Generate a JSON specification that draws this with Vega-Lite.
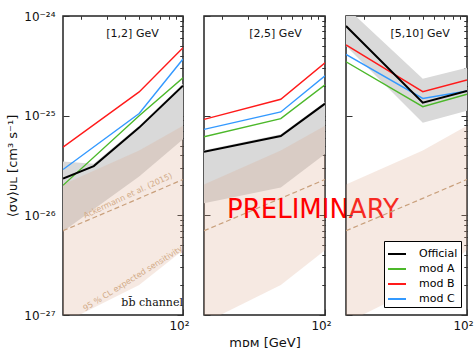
{
  "$schema": "https://vega.github.io/schema/vega-lite/v6.json",
  "padding": {"left": 6, "top": 9, "right": 0, "bottom": 0},
  "bounds": "flush",
  "spacing": 21,
  "datasets": {
    "lines": [
      {"panel": 1, "series": "Official", "mass": 15, "sigma": 2.34e-26},
      {"panel": 1, "series": "Official", "mass": 24.4, "sigma": 3.12e-26},
      {"panel": 1, "series": "Official", "mass": 50, "sigma": 7.59e-26},
      {"panel": 1, "series": "Official", "mass": 100, "sigma": 2.0e-25},
      {"panel": 1, "series": "mod A", "mass": 15, "sigma": 2.0e-26},
      {"panel": 1, "series": "mod A", "mass": 50, "sigma": 1.0e-25},
      {"panel": 1, "series": "mod A", "mass": 100, "sigma": 2.4e-25},
      {"panel": 1, "series": "mod B", "mass": 15, "sigma": 4.84e-26},
      {"panel": 1, "series": "mod B", "mass": 50, "sigma": 1.73e-25},
      {"panel": 1, "series": "mod B", "mass": 100, "sigma": 4.79e-25},
      {"panel": 1, "series": "mod C", "mass": 15, "sigma": 2.88e-26},
      {"panel": 1, "series": "mod C", "mass": 50, "sigma": 1.05e-25},
      {"panel": 1, "series": "mod C", "mass": 100, "sigma": 3.7e-25},
      {"panel": 2, "series": "Official", "mass": 15, "sigma": 4.35e-26},
      {"panel": 2, "series": "Official", "mass": 50, "sigma": 6.24e-26},
      {"panel": 2, "series": "Official", "mass": 100, "sigma": 1.32e-25},
      {"panel": 2, "series": "mod A", "mass": 15, "sigma": 6.14e-26},
      {"panel": 2, "series": "mod A", "mass": 50, "sigma": 9.33e-26},
      {"panel": 2, "series": "mod A", "mass": 100, "sigma": 2.04e-25},
      {"panel": 2, "series": "mod B", "mass": 15, "sigma": 9.18e-26},
      {"panel": 2, "series": "mod B", "mass": 50, "sigma": 1.46e-25},
      {"panel": 2, "series": "mod B", "mass": 100, "sigma": 3.39e-25},
      {"panel": 2, "series": "mod C", "mass": 15, "sigma": 7.28e-26},
      {"panel": 2, "series": "mod C", "mass": 50, "sigma": 1.09e-25},
      {"panel": 2, "series": "mod C", "mass": 100, "sigma": 2.51e-25},
      {"panel": 3, "series": "Official", "mass": 15, "sigma": 7.94e-25},
      {"panel": 3, "series": "Official", "mass": 50, "sigma": 1.35e-25},
      {"panel": 3, "series": "Official", "mass": 100, "sigma": 1.77e-25},
      {"panel": 3, "series": "mod A", "mass": 15, "sigma": 3.47e-25},
      {"panel": 3, "series": "mod A", "mass": 50, "sigma": 1.23e-25},
      {"panel": 3, "series": "mod A", "mass": 100, "sigma": 1.64e-25},
      {"panel": 3, "series": "mod B", "mass": 15, "sigma": 5.13e-25},
      {"panel": 3, "series": "mod B", "mass": 50, "sigma": 1.74e-25},
      {"panel": 3, "series": "mod B", "mass": 100, "sigma": 2.28e-25},
      {"panel": 3, "series": "mod C", "mass": 15, "sigma": 4.12e-25},
      {"panel": 3, "series": "mod C", "mass": 50, "sigma": 1.49e-25},
      {"panel": 3, "series": "mod C", "mass": 100, "sigma": 1.77e-25}
    ],
    "bands": [
      {"panel": 1, "band": "gray", "mass": 15, "lo": 6.9e-27, "hi": 3.47e-26},
      {"panel": 1, "band": "gray", "mass": 24.4, "lo": 1.15e-26, "hi": 3.3e-26},
      {"panel": 1, "band": "gray", "mass": 50, "lo": 2.45e-26, "hi": 7.9e-26},
      {"panel": 1, "band": "gray", "mass": 100, "lo": 5.8e-26, "hi": 2.09e-25},
      {"panel": 2, "band": "gray", "mass": 15, "lo": 1.32e-26, "hi": 4.5e-26},
      {"panel": 2, "band": "gray", "mass": 50, "lo": 1.9e-26, "hi": 6.5e-26},
      {"panel": 2, "band": "gray", "mass": 100, "lo": 4.12e-26, "hi": 1.37e-25},
      {"panel": 3, "band": "gray", "mass": 15, "lo": 5.0e-25, "hi": 1.23e-24},
      {"panel": 3, "band": "gray", "mass": 50, "lo": 8.5e-26, "hi": 2.34e-25},
      {"panel": 3, "band": "gray", "mass": 100, "lo": 1.12e-25, "hi": 3.02e-25},
      {"panel": 1, "band": "tan", "mass": 15, "lo": 8.3e-28, "hi": 2.04e-26},
      {"panel": 1, "band": "tan", "mass": 50, "lo": 2.0e-27, "hi": 4.47e-26},
      {"panel": 1, "band": "tan", "mass": 100, "lo": 4.47e-27, "hi": 7.94e-26},
      {"panel": 2, "band": "tan", "mass": 15, "lo": 8.3e-28, "hi": 2.04e-26},
      {"panel": 2, "band": "tan", "mass": 50, "lo": 2.0e-27, "hi": 4.47e-26},
      {"panel": 2, "band": "tan", "mass": 100, "lo": 4.47e-27, "hi": 7.94e-26},
      {"panel": 3, "band": "tan", "mass": 15, "lo": 8.3e-28, "hi": 2.04e-26},
      {"panel": 3, "band": "tan", "mass": 50, "lo": 2.0e-27, "hi": 4.47e-26},
      {"panel": 3, "band": "tan", "mass": 100, "lo": 4.47e-27, "hi": 7.94e-26}
    ],
    "ack": [
      {"panel": 1, "mass": 15, "sigma": 7.0e-27},
      {"panel": 1, "mass": 50, "sigma": 1.48e-26},
      {"panel": 1, "mass": 100, "sigma": 2.29e-26},
      {"panel": 2, "mass": 15, "sigma": 7.0e-27},
      {"panel": 2, "mass": 50, "sigma": 1.48e-26},
      {"panel": 2, "mass": 100, "sigma": 2.29e-26},
      {"panel": 3, "mass": 15, "sigma": 7.0e-27},
      {"panel": 3, "mass": 50, "sigma": 1.48e-26},
      {"panel": 3, "mass": 100, "sigma": 2.29e-26}
    ],
    "labels": [
      {"panel": 1, "kind": "title", "mass": 45, "sigma": 6.6e-25, "text": "[1,2] GeV"},
      {"panel": 2, "kind": "title", "mass": 46, "sigma": 6.6e-25, "text": "[2,5] GeV"},
      {"panel": 3, "kind": "title", "mass": 48, "sigma": 6.6e-25, "text": "[5,10] GeV"},
      {"panel": 1, "kind": "ack", "mass": 42, "sigma": 1.56e-26, "text": "Ackermann et al. (2015)"},
      {"panel": 1, "kind": "sens", "mass": 45.5, "sigma": 2.3e-27, "text": "95 % CL expected sensitivity"},
      {"panel": 1, "kind": "chan", "mass": 61.4, "sigma": 1.32e-27, "text": "bb̄ channel"},
      {"panel": 2, "kind": "prelim", "mass": 82.8, "sigma": 1.12e-26, "text": "PRELIMINARY"}
    ]
  },
  "hconcat": [
    {
      "width": 120, "height": 299,
      "layer": [
        {"data": {"name": "bands"}, "transform": [{"filter": "datum.panel == 1 && datum.band == 'gray'"}],
         "mark": {"type": "area", "color": "#d9d9d9", "clip": true},
         "encoding": {
           "x": {"field": "mass", "type": "quantitative", "scale": {"type": "log", "domain": [15, 100], "nice": false},
                 "axis": {"values": [100], "labelExpr": "'10²'", "offset": -6, "tickSize": 6, "title": null, "labelPadding": 5, "labelOffset": -4}},
           "y": {"field": "lo", "type": "quantitative", "scale": {"type": "log", "domain": [1e-27, 1e-24], "nice": false},
                 "axis": {"values": [1e-27, 1e-26, 1e-25, 1e-24],
                          "labelExpr": "datum.value < 5e-27 ? '10⁻²⁷' : datum.value < 5e-26 ? '10⁻²⁶' : datum.value < 5e-25 ? '10⁻²⁵' : '10⁻²⁴'",
                          "offset": -6, "tickSize": 6, "title": "⟨σv⟩ᴜʟ [cm³ s⁻¹]", "labelPadding": 8, "titlePadding": 4}},
           "y2": {"field": "hi"}}},
        {"data": {"name": "bands"}, "transform": [{"filter": "datum.panel == 1 && datum.band == 'tan'"}],
         "mark": {"type": "area", "color": "#dca88a", "opacity": 0.25, "clip": true},
         "encoding": {"x": {"field": "mass", "type": "quantitative", "axis": null}, "y": {"field": "lo", "type": "quantitative", "axis": null}, "y2": {"field": "hi"}}},
        {"data": {"name": "ack"}, "transform": [{"filter": "datum.panel == 1"}],
         "mark": {"type": "line", "color": "#c9a07c", "strokeDash": [5, 3], "strokeWidth": 1.2, "clip": true},
         "encoding": {"x": {"field": "mass", "type": "quantitative", "axis": null}, "y": {"field": "sigma", "type": "quantitative", "axis": null}}},
        {"data": {"name": "lines"}, "transform": [{"filter": "datum.panel == 1 && datum.series != 'Official'"}],
         "mark": {"type": "line", "strokeWidth": 1.4, "clip": true},
         "encoding": {"x": {"field": "mass", "type": "quantitative", "axis": null}, "y": {"field": "sigma", "type": "quantitative", "axis": null},
           "color": {"field": "series", "type": "nominal", "scale": {"domain": ["Official", "mod A", "mod B", "mod C"], "range": ["#000000", "#4cb82a", "#ff1a1a", "#3399ff"]},
                     "legend": {"orient": "none", "legendX": 321, "legendY": 225, "title": null, "symbolType": "stroke", "symbolSize": 324, "symbolStrokeWidth": 2, "labelFontSize": 11, "strokeColor": "black", "fillColor": "white", "padding": 3, "rowPadding": -2, "labelOffset": 12, "cornerRadius": 0}}}},
        {"data": {"name": "lines"}, "transform": [{"filter": "datum.panel == 1 && datum.series == 'Official'"}],
         "mark": {"type": "line", "strokeWidth": 2, "clip": true},
         "encoding": {"x": {"field": "mass", "type": "quantitative", "axis": null}, "y": {"field": "sigma", "type": "quantitative", "axis": null},
           "color": {"field": "series", "type": "nominal"}}},
        {"data": {"name": "labels"}, "transform": [{"filter": "datum.panel == 1 && datum.kind == 'title'"}],
         "mark": {"type": "text", "fontSize": 11, "color": "#111"},
         "encoding": {"x": {"field": "mass", "type": "quantitative", "axis": null}, "y": {"field": "sigma", "type": "quantitative", "axis": null}, "text": {"field": "text"}}},
        {"data": {"name": "labels"}, "transform": [{"filter": "datum.panel == 1 && datum.kind == 'ack'"}],
         "mark": {"type": "text", "fontSize": 8, "color": "#d2ab88", "angle": -25},
         "encoding": {"x": {"field": "mass", "type": "quantitative", "axis": null}, "y": {"field": "sigma", "type": "quantitative", "axis": null}, "text": {"field": "text"}}},
        {"data": {"name": "labels"}, "transform": [{"filter": "datum.panel == 1 && datum.kind == 'sens'"}],
         "mark": {"type": "text", "fontSize": 8, "color": "#d2ab88", "angle": -32},
         "encoding": {"x": {"field": "mass", "type": "quantitative", "axis": null}, "y": {"field": "sigma", "type": "quantitative", "axis": null}, "text": {"field": "text"}}},
        {"data": {"name": "labels"}, "transform": [{"filter": "datum.panel == 1 && datum.kind == 'chan'"}],
         "mark": {"type": "text", "fontSize": 11, "font": "DejaVu Serif", "color": "#111"},
         "encoding": {"x": {"field": "mass", "type": "quantitative", "axis": null}, "y": {"field": "sigma", "type": "quantitative", "axis": null}, "text": {"field": "text"}}},
        {"data": {"name": "lines"}, "transform": [{"filter": "datum.panel == 1"}],
         "mark": {"type": "point", "opacity": 0},
         "encoding": {
           "x": {"field": "mass", "type": "quantitative", "axis": {"values": [20, 30, 40, 50, 60, 70, 80, 90], "labels": false, "offset": -3, "tickSize": 3, "title": null}},
           "y": {"field": "sigma", "type": "quantitative", "axis": {"values": [2e-27, 3e-27, 4e-27, 5e-27, 6e-27, 7e-27, 8e-27, 9e-27, 2e-26, 3e-26, 4e-26, 5e-26, 6e-26, 7e-26, 8e-26, 9e-26, 2e-25, 3e-25, 4e-25, 5e-25, 6e-25, 7e-25, 8e-25, 9e-25], "labels": false, "offset": -3, "tickSize": 3, "title": null}}}},
        {"data": {"name": "lines"}, "transform": [{"filter": "datum.panel == 1"}],
         "mark": {"type": "point", "opacity": 0},
         "encoding": {
           "x": {"field": "mass", "type": "quantitative", "axis": {"orient": "top", "values": [100], "labels": false, "offset": -6, "tickSize": 6, "title": null}},
           "y": {"field": "sigma", "type": "quantitative", "axis": {"orient": "right", "values": [1e-27, 1e-26, 1e-25, 1e-24], "labels": false, "offset": -6, "tickSize": 6, "title": null}}}},
        {"data": {"name": "lines"}, "transform": [{"filter": "datum.panel == 1"}],
         "mark": {"type": "point", "opacity": 0},
         "encoding": {
           "x": {"field": "mass", "type": "quantitative", "axis": {"orient": "top", "values": [20, 30, 40, 50, 60, 70, 80, 90], "labels": false, "offset": -3, "tickSize": 3, "title": null}},
           "y": {"field": "sigma", "type": "quantitative", "axis": {"orient": "right", "values": [2e-27, 3e-27, 4e-27, 5e-27, 6e-27, 7e-27, 8e-27, 9e-27, 2e-26, 3e-26, 4e-26, 5e-26, 6e-26, 7e-26, 8e-26, 9e-26, 2e-25, 3e-25, 4e-25, 5e-25, 6e-25, 7e-25, 8e-25, 9e-25], "labels": false, "offset": -3, "tickSize": 3, "title": null}}}}
      ],
      "resolve": {"axis": {"x": "independent", "y": "independent"}}
    },
    {
      "width": 121, "height": 299,
      "layer": [
        {"data": {"name": "bands"}, "transform": [{"filter": "datum.panel == 2 && datum.band == 'gray'"}],
         "mark": {"type": "area", "color": "#d9d9d9", "clip": true},
         "encoding": {
           "x": {"field": "mass", "type": "quantitative", "scale": {"type": "log", "domain": [15, 100], "nice": false},
                 "axis": {"values": [100], "labelExpr": "'10²'", "offset": -6, "tickSize": 6, "title": "mᴅᴍ [GeV]", "labelPadding": 5, "labelOffset": -4, "titlePadding": 5}},
           "y": {"field": "lo", "type": "quantitative", "scale": {"type": "log", "domain": [1e-27, 1e-24], "nice": false},
                 "axis": {"values": [1e-27, 1e-26, 1e-25, 1e-24], "labels": false, "offset": -6, "tickSize": 6, "title": null}},
           "y2": {"field": "hi"}}},
        {"data": {"name": "bands"}, "transform": [{"filter": "datum.panel == 2 && datum.band == 'tan'"}],
         "mark": {"type": "area", "color": "#dca88a", "opacity": 0.25, "clip": true},
         "encoding": {"x": {"field": "mass", "type": "quantitative", "axis": null}, "y": {"field": "lo", "type": "quantitative", "axis": null}, "y2": {"field": "hi"}}},
        {"data": {"name": "ack"}, "transform": [{"filter": "datum.panel == 2"}],
         "mark": {"type": "line", "color": "#c9a07c", "strokeDash": [5, 3], "strokeWidth": 1.2, "clip": true},
         "encoding": {"x": {"field": "mass", "type": "quantitative", "axis": null}, "y": {"field": "sigma", "type": "quantitative", "axis": null}}},
        {"data": {"name": "lines"}, "transform": [{"filter": "datum.panel == 2 && datum.series != 'Official'"}],
         "mark": {"type": "line", "strokeWidth": 1.4, "clip": true},
         "encoding": {"x": {"field": "mass", "type": "quantitative", "axis": null}, "y": {"field": "sigma", "type": "quantitative", "axis": null},
           "color": {"field": "series", "type": "nominal"}}},
        {"data": {"name": "lines"}, "transform": [{"filter": "datum.panel == 2 && datum.series == 'Official'"}],
         "mark": {"type": "line", "strokeWidth": 2, "clip": true},
         "encoding": {"x": {"field": "mass", "type": "quantitative", "axis": null}, "y": {"field": "sigma", "type": "quantitative", "axis": null},
           "color": {"field": "series", "type": "nominal"}}},
        {"data": {"name": "labels"}, "transform": [{"filter": "datum.panel == 2 && datum.kind == 'title'"}],
         "mark": {"type": "text", "fontSize": 11, "color": "#111"},
         "encoding": {"x": {"field": "mass", "type": "quantitative", "axis": null}, "y": {"field": "sigma", "type": "quantitative", "axis": null}, "text": {"field": "text"}}},
        {"data": {"name": "labels"}, "transform": [{"filter": "datum.panel == 2 && datum.kind == 'prelim'"}],
         "mark": {"type": "text", "fontSize": 26, "color": "#ff0000"},
         "encoding": {"x": {"field": "mass", "type": "quantitative", "axis": null}, "y": {"field": "sigma", "type": "quantitative", "axis": null}, "text": {"field": "text"}}},
        {"data": {"name": "lines"}, "transform": [{"filter": "datum.panel == 2"}],
         "mark": {"type": "point", "opacity": 0},
         "encoding": {
           "x": {"field": "mass", "type": "quantitative", "axis": {"values": [20, 30, 40, 50, 60, 70, 80, 90], "labels": false, "offset": -3, "tickSize": 3, "title": null}},
           "y": {"field": "sigma", "type": "quantitative", "axis": {"values": [2e-27, 3e-27, 4e-27, 5e-27, 6e-27, 7e-27, 8e-27, 9e-27, 2e-26, 3e-26, 4e-26, 5e-26, 6e-26, 7e-26, 8e-26, 9e-26, 2e-25, 3e-25, 4e-25, 5e-25, 6e-25, 7e-25, 8e-25, 9e-25], "labels": false, "offset": -3, "tickSize": 3, "title": null}}}},
        {"data": {"name": "lines"}, "transform": [{"filter": "datum.panel == 2"}],
         "mark": {"type": "point", "opacity": 0},
         "encoding": {
           "x": {"field": "mass", "type": "quantitative", "axis": {"orient": "top", "values": [100], "labels": false, "offset": -6, "tickSize": 6, "title": null}},
           "y": {"field": "sigma", "type": "quantitative", "axis": {"orient": "right", "values": [1e-27, 1e-26, 1e-25, 1e-24], "labels": false, "offset": -6, "tickSize": 6, "title": null}}}},
        {"data": {"name": "lines"}, "transform": [{"filter": "datum.panel == 2"}],
         "mark": {"type": "point", "opacity": 0},
         "encoding": {
           "x": {"field": "mass", "type": "quantitative", "axis": {"orient": "top", "values": [20, 30, 40, 50, 60, 70, 80, 90], "labels": false, "offset": -3, "tickSize": 3, "title": null}},
           "y": {"field": "sigma", "type": "quantitative", "axis": {"orient": "right", "values": [2e-27, 3e-27, 4e-27, 5e-27, 6e-27, 7e-27, 8e-27, 9e-27, 2e-26, 3e-26, 4e-26, 5e-26, 6e-26, 7e-26, 8e-26, 9e-26, 2e-25, 3e-25, 4e-25, 5e-25, 6e-25, 7e-25, 8e-25, 9e-25], "labels": false, "offset": -3, "tickSize": 3, "title": null}}}}
      ],
      "resolve": {"axis": {"x": "independent", "y": "independent"}}
    },
    {
      "width": 121, "height": 299,
      "layer": [
        {"data": {"name": "bands"}, "transform": [{"filter": "datum.panel == 3 && datum.band == 'gray'"}],
         "mark": {"type": "area", "color": "#d9d9d9", "clip": true},
         "encoding": {
           "x": {"field": "mass", "type": "quantitative", "scale": {"type": "log", "domain": [15, 100], "nice": false},
                 "axis": {"values": [100], "labelExpr": "'10²'", "offset": -6, "tickSize": 6, "title": null, "labelPadding": 5, "labelOffset": -4}},
           "y": {"field": "lo", "type": "quantitative", "scale": {"type": "log", "domain": [1e-27, 1e-24], "nice": false},
                 "axis": {"values": [1e-27, 1e-26, 1e-25, 1e-24], "labels": false, "offset": -6, "tickSize": 6, "title": null}},
           "y2": {"field": "hi"}}},
        {"data": {"name": "bands"}, "transform": [{"filter": "datum.panel == 3 && datum.band == 'tan'"}],
         "mark": {"type": "area", "color": "#dca88a", "opacity": 0.25, "clip": true},
         "encoding": {"x": {"field": "mass", "type": "quantitative", "axis": null}, "y": {"field": "lo", "type": "quantitative", "axis": null}, "y2": {"field": "hi"}}},
        {"data": {"name": "ack"}, "transform": [{"filter": "datum.panel == 3"}],
         "mark": {"type": "line", "color": "#c9a07c", "strokeDash": [5, 3], "strokeWidth": 1.2, "clip": true},
         "encoding": {"x": {"field": "mass", "type": "quantitative", "axis": null}, "y": {"field": "sigma", "type": "quantitative", "axis": null}}},
        {"data": {"name": "lines"}, "transform": [{"filter": "datum.panel == 3 && datum.series != 'Official'"}],
         "mark": {"type": "line", "strokeWidth": 1.4, "clip": true},
         "encoding": {"x": {"field": "mass", "type": "quantitative", "axis": null}, "y": {"field": "sigma", "type": "quantitative", "axis": null},
           "color": {"field": "series", "type": "nominal"}}},
        {"data": {"name": "lines"}, "transform": [{"filter": "datum.panel == 3 && datum.series == 'Official'"}],
         "mark": {"type": "line", "strokeWidth": 2, "clip": true},
         "encoding": {"x": {"field": "mass", "type": "quantitative", "axis": null}, "y": {"field": "sigma", "type": "quantitative", "axis": null},
           "color": {"field": "series", "type": "nominal"}}},
        {"data": {"name": "labels"}, "transform": [{"filter": "datum.panel == 3 && datum.kind == 'title'"}],
         "mark": {"type": "text", "fontSize": 11, "color": "#111"},
         "encoding": {"x": {"field": "mass", "type": "quantitative", "axis": null}, "y": {"field": "sigma", "type": "quantitative", "axis": null}, "text": {"field": "text"}}},
        {"data": {"name": "lines"}, "transform": [{"filter": "datum.panel == 3"}],
         "mark": {"type": "point", "opacity": 0},
         "encoding": {
           "x": {"field": "mass", "type": "quantitative", "axis": {"values": [20, 30, 40, 50, 60, 70, 80, 90], "labels": false, "offset": -3, "tickSize": 3, "title": null}},
           "y": {"field": "sigma", "type": "quantitative", "axis": {"values": [2e-27, 3e-27, 4e-27, 5e-27, 6e-27, 7e-27, 8e-27, 9e-27, 2e-26, 3e-26, 4e-26, 5e-26, 6e-26, 7e-26, 8e-26, 9e-26, 2e-25, 3e-25, 4e-25, 5e-25, 6e-25, 7e-25, 8e-25, 9e-25], "labels": false, "offset": -3, "tickSize": 3, "title": null}}}},
        {"data": {"name": "lines"}, "transform": [{"filter": "datum.panel == 3"}],
         "mark": {"type": "point", "opacity": 0},
         "encoding": {
           "x": {"field": "mass", "type": "quantitative", "axis": {"orient": "top", "values": [100], "labels": false, "offset": -6, "tickSize": 6, "title": null}},
           "y": {"field": "sigma", "type": "quantitative", "axis": {"orient": "right", "values": [1e-27, 1e-26, 1e-25, 1e-24], "labels": false, "offset": -6, "tickSize": 6, "title": null}}}},
        {"data": {"name": "lines"}, "transform": [{"filter": "datum.panel == 3"}],
         "mark": {"type": "point", "opacity": 0},
         "encoding": {
           "x": {"field": "mass", "type": "quantitative", "axis": {"orient": "top", "values": [20, 30, 40, 50, 60, 70, 80, 90], "labels": false, "offset": -3, "tickSize": 3, "title": null}},
           "y": {"field": "sigma", "type": "quantitative", "axis": {"orient": "right", "values": [2e-27, 3e-27, 4e-27, 5e-27, 6e-27, 7e-27, 8e-27, 9e-27, 2e-26, 3e-26, 4e-26, 5e-26, 6e-26, 7e-26, 8e-26, 9e-26, 2e-25, 3e-25, 4e-25, 5e-25, 6e-25, 7e-25, 8e-25, 9e-25], "labels": false, "offset": -3, "tickSize": 3, "title": null}}}}
      ],
      "resolve": {"axis": {"x": "independent", "y": "independent"}}
    }
  ],
  "config": {
    "font": "DejaVu Sans",
    "view": {"stroke": "#222", "strokeWidth": 1.5},
    "axis": {"grid": false, "domain": false, "zindex": 1, "tickColor": "#333", "labelColor": "#111", "labelFontSize": 12, "titleFontSize": 13, "titleFontWeight": "normal", "titleColor": "#111", "labelFlush": false, "labelOverlap": false, "labelBound": false}
  }
}
